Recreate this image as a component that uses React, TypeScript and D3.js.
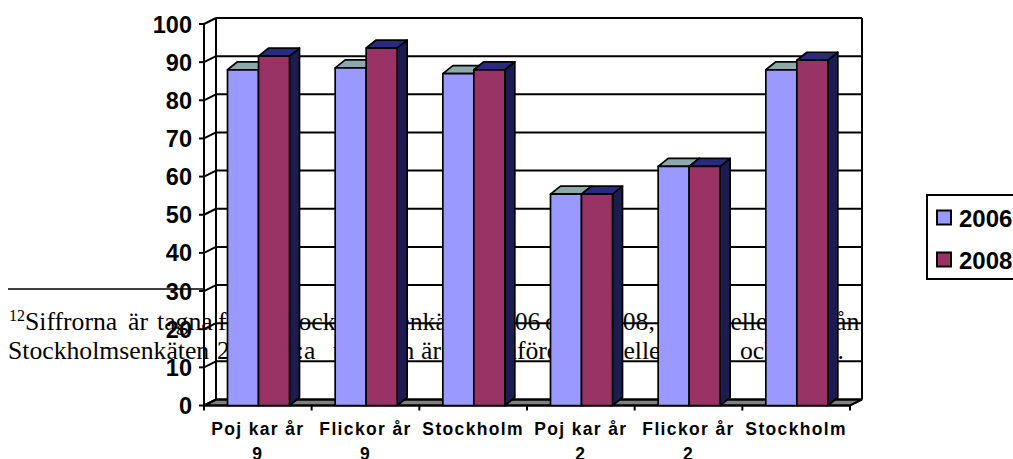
import React from 'react';
import * as d3 from 'd3';

const categories = ['Pojkar år 9', 'Flickor år 9', 'Stockholm 9', 'Pojkar år 2', 'Flickor år 2', 'Stockholm 2'];
const categoryLines = [['Poj kar år', '9'], ['Flickor år', '9'], ['Stockholm'], ['Poj kar år', '2'], ['Flickor år', '2'], ['Stockholm']];
const seriesNames = ['2006', '2008'];
const values2006 = [88, 88.5, 87, 55.4, 62.7, 88];
const values2008 = [91.6, 93.7, 88, 55.4, 62.7, 90.5];
const yTicks = [0, 10, 20, 30, 40, 50, 60, 70, 80, 90, 100];

const width = 1013;
const height = 459;
const sans = '"Liberation Sans", Arial, sans-serif';

// footnote is justified on the page, so each run gets its own x
const noteLine1: [number, string][] = [
  [25, 'Siffrorna'], [128, 'är'], [157, 'tagna'], [218, 'från'], [277, 'Stockholmsenkäten'], [489, '2006'], [545, 'och'],
  [597, '2008,'], [699, 'tabellen'], [788, 'är'], [818, 'från'],
];
const noteLine2: [number, string][] = [
  [8, 'Stockholmsenkäten'], [217, '2008.'], [284, '2:a'], [333, 'tabellen'], [421, 'är'], [447, 'genomförd'],
  [572, 'i'], [592, 'tabellen'], [679, '2006'], [740, 'och'], [786, '2008.'],
];

// front plane of the 3d box, the back wall sits depth px up and right
const depthX = 12;
const depthY = 6;
const barDepthX = 10;
const barDepthY = 8;

const x = d3.scaleBand<string>().domain(categories).range([204, 850]);
const y = d3.scaleLinear().domain([0, 100]).range([405.5, 24]);
const inner = d3.scaleBand<string>().domain(seriesNames).range([0, 62]);

const colours = {
  '2006': { front: '#9999ff', top: '#8caaaa', side: '#4c4c80' },
  '2008': { front: '#993366', top: '#2a2a80', side: '#1c1c50' },
};

const App: React.FC = () => {
  const backLeft = 204 + depthX;
  const backRight = 850 + depthX;
  const floor = `M204,${y(0)}L850,${y(0)}L${backRight},${y(0) - depthY}L${backLeft},${y(0) - depthY}Z`;

  return (
    <svg width={width} height={height} style={{ display: 'block', overflow: 'hidden', position: 'fixed', left: 0, top: 0, background: '#fff' }}>
      {/* footnote from the page behind the chart */}
      <line x1={8} x2={205} y1={289} y2={289} stroke="#000" strokeWidth={1.6} />
      <g fontFamily='"Liberation Serif", "Times New Roman", serif' fontSize={25.7} fill="#000">
        <text x={9} y={321} fontSize={16}>12</text>
        {noteLine1.map(([px, s]) => <text key={px} x={px} y={330}>{s}</text>)}
        {noteLine2.map(([px, s]) => <text key={px} x={px} y={359}>{s}</text>)}
      </g>

      <path d={floor} fill="#808080" stroke="#000" strokeWidth={2} />

      {/* back wall grid */}
      {yTicks.map(t => (
        <g key={t} stroke="#000" strokeWidth={2}>
          <line x1={backLeft} x2={backRight} y1={y(t) - depthY} y2={y(t) - depthY} />
          <line x1={204} x2={backLeft} y1={y(t)} y2={y(t) - depthY} />
          <line x1={199} x2={204} y1={y(t)} y2={y(t)} />
        </g>
      ))}
      <g stroke="#000" strokeWidth={2}>
        <line x1={204} x2={204} y1={y(100)} y2={y(0)} />
        <line x1={backLeft} x2={backLeft} y1={y(100) - depthY} y2={y(0) - depthY} />
        <line x1={backRight} x2={backRight} y1={y(100) - depthY} y2={y(0) - depthY} />
        <line x1={204} x2={850} y1={y(0)} y2={y(0)} />
        {[...categories.map(c => x(c) as number), 850].map(t => (
          <line key={t} x1={t} x2={t} y1={y(0)} y2={y(0) + 5} />
        ))}
      </g>

      {/* bars */}
      {categories.map((c, i) => (
        <g key={c} transform={`translate(${(x(c) as number) + 23.5},0)`}>
          {seriesNames.map((s, k) => {
            const v = k === 0 ? values2006[i] : values2008[i];
            const x0 = inner(s) as number;
            const w = inner.bandwidth();
            const top = y(v);
            const base = y(0);
            const col = colours[s as keyof typeof colours];
            return (
              <g key={s} stroke="#000" strokeWidth={1.7} strokeLinejoin="round">
                <path fill={col.side} d={`M${x0 + w},${top}l${barDepthX},${-barDepthY}V${base - barDepthY}l${-barDepthX},${barDepthY}Z`} />
                <path fill={col.top} d={`M${x0},${top}l${barDepthX},${-barDepthY}h${w}l${-barDepthX},${barDepthY}Z`} />
                <rect x={x0} y={top} width={w} height={base - top} fill={col.front} />
              </g>
            );
          })}
        </g>
      ))}

      {/* y labels */}
      <g fontFamily={sans} fontWeight="bold" fontSize={23.5} textAnchor="end" fill="#000">
        {yTicks.map(t => (
          <text key={t} x={192} y={y(t) + 8.5}>{t}</text>
        ))}
      </g>

      {/* x labels */}
      <g fontFamily={sans} fontWeight="bold" fontSize={17.5} letterSpacing={1.35} textAnchor="middle" fill="#000">
        {categories.map((c, i) =>
          categoryLines[i].map((line, j) => (
            <text key={j} x={(x(c) as number) + x.bandwidth() / 2} y={435 + j * 25}>{line}</text>
          ))
        )}
      </g>

      {/* legend */}
      <rect x={927} y={195} width={120} height={84} fill="#fff" stroke="#000" strokeWidth={2} />
      {seriesNames.map((s, i) => (
        <g key={s}>
          <rect x={937} y={210.5 + i * 42} width={14} height={14} fill={colours[s as keyof typeof colours].front} stroke="#000" strokeWidth={2} />
          <text x={959} y={227 + i * 41.5} fontFamily={sans} fontWeight="bold" fontSize={24} fill="#000">{s}</text>
        </g>
      ))}
    </svg>
  );
};

export default App;
